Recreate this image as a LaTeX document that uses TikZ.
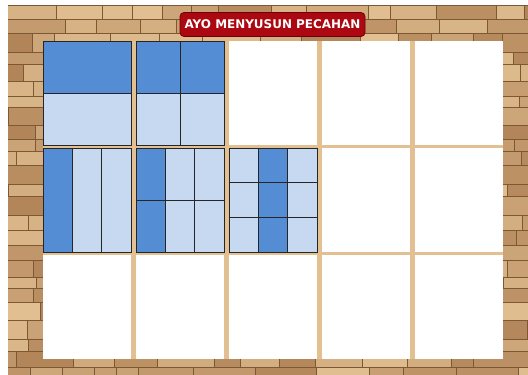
\documentclass[tikz,border=0pt]{standalone}
\usepackage{fontspec}
\setmainfont{DejaVu Sans}
\definecolor{dk}{RGB}{84,141,212}
\definecolor{lt}{RGB}{198,217,241}
\definecolor{woodA}{RGB}{226,192,146}
\definecolor{woodB}{RGB}{170,124,80}
\definecolor{woodL}{RGB}{125,88,52}
\definecolor{strip}{RGB}{226,192,145}
\definecolor{titlered}{RGB}{172,8,18}
\definecolor{titleedge}{RGB}{110,0,5}
\begin{document}
\begin{tikzpicture}[x=1bp,y=-1bp,
  cellbox/.style={fill=white, minimum width=88bp, minimum height=104bp, inner sep=0pt, outer sep=0pt, anchor=north west},
  part/.style={draw=black!85, line width=0.8bp},
  titlebox/.style={fill=titlered, draw=titleedge, line width=0.8bp, rounded corners=4bp, minimum width=185bp, minimum height=24bp, inner sep=0pt, text=white, font=\bfseries\fontsize{12}{12}\selectfont}]
\useasboundingbox (0,0) rectangle (528,374);
\fill[white] (0,0) rectangle (528,374);
% wood background
\begin{scope}
\clip (8,5) rectangle (528,374);
\fill[woodB] (8,5) rectangle (528,374);
\pgfmathsetseed{11}
\xdef\cury{5}
\foreach \r in {0,...,30}{
  \pgfmathrandominteger{\hh}{11}{19}
  \pgfmathrandominteger{\off}{0}{40}
  \pgfmathsetmacro{\startx}{8-\off}
  \xdef\curx{\startx}
  \foreach \c in {0,...,20}{
    \pgfmathrandominteger{\m}{10}{100}
    \pgfmathrandominteger{\ww}{22}{62}
    \colorlet{blk}{woodA!\m!woodB}
    \fill[blk, draw=woodL, line width=0.6bp] (\curx,\cury) rectangle ++(\ww,\hh);
    \pgfmathsetmacro{\nx}{\curx+\ww}
    \xdef\curx{\nx}
  }
  \pgfmathsetmacro{\ny}{\cury+\hh}
  \xdef\cury{\ny}
}
\end{scope}
% light strips between the cells
\fill[strip] (43,41) rectangle (503,359);
% cells
\foreach \x [count=\i] in {43,136,229,322,415}{
  \foreach \y [count=\j] in {41,148,255}{
    \node[cellbox] (c\j\i) at (\x,\y) {};
  }
}
% row 1, cell 1: halves
\fill[dk] (c11.north west) rectangle (c11.east);
\fill[lt] (c11.west) rectangle (c11.south east);
\draw[part] (c11.north west) rectangle (c11.south east);
\draw[part] (c11.west) -- (c11.east);
% row 1, cell 2: quarters
\fill[dk] (c12.north west) rectangle (c12.east);
\fill[lt] (c12.west) rectangle (c12.south east);
\draw[part] (c12.north west) rectangle (c12.south east);
\draw[part] (c12.west) -- (c12.east);
\draw[part] (c12.north) -- (c12.south);
% row 2, cell 1: thirds
\begin{scope}[shift={(c21.north west)}]
\fill[dk] (0,0) rectangle (29.33,104);
\fill[lt] (29.33,0) rectangle (88,104);
\draw[part] (0,0) rectangle (88,104);
\draw[part] (29.33,0) -- (29.33,104);
\draw[part] (58.67,0) -- (58.67,104);
\end{scope}
% row 2, cell 2: sixths
\begin{scope}[shift={(c22.north west)}]
\fill[dk] (0,0) rectangle (29.33,104);
\fill[lt] (29.33,0) rectangle (88,104);
\draw[part] (0,0) rectangle (88,104);
\draw[part] (29.33,0) -- (29.33,104);
\draw[part] (58.67,0) -- (58.67,104);
\draw[part] (0,52) -- (88,52);
\end{scope}
% row 2, cell 3: ninths
\begin{scope}[shift={(c23.north west)}]
\fill[lt] (0,0) rectangle (88,104);
\fill[dk] (29.33,0) rectangle (58.67,104);
\draw[part] (0,0) rectangle (88,104);
\draw[part] (29.33,0) -- (29.33,104);
\draw[part] (58.67,0) -- (58.67,104);
\draw[part] (0,34.67) -- (88,34.67);
\draw[part] (0,69.33) -- (88,69.33);
\end{scope}
% title
\node[titlebox] (title) at (272.5,24.5) {AYO MENYUSUN PECAHAN};
\end{tikzpicture}
\end{document}
